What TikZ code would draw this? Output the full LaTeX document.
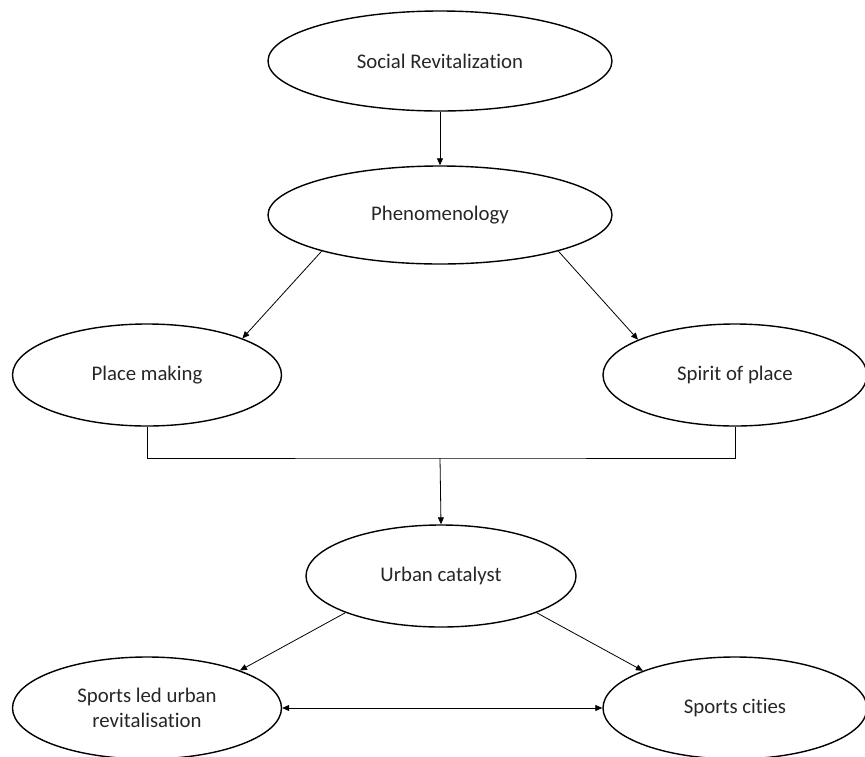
\documentclass[tikz,border=0pt]{standalone}
\usepackage{fontspec}
\setmainfont{Carlito}[Ligatures={NoCommon}]
\usetikzlibrary{shapes.geometric,arrows.meta}
\begin{document}
\begin{tikzpicture}[x=1pt,y=-1pt,
  oval/.style={ellipse,draw,line width=1.4pt,inner sep=0pt,align=center,text=black!85,font=\fontsize{20.8}{25}\selectfont},
  conn/.style={line width=0.8pt,-{Triangle[length=7pt,width=6pt]}},
  plain/.style={line width=0.8pt}]
\useasboundingbox (0,0) rectangle (865,756);
\node[oval,minimum width=344pt,minimum height=100pt] (soc) at (440,61) {Social Revitalization};
\node[oval,minimum width=344pt,minimum height=98pt] (phen) at (440,215) {Phenomenology};
\node[oval,minimum width=269pt,minimum height=102pt] (pm) at (147,375) {Place making};
\node[oval,minimum width=264pt,minimum height=102pt] (sp) at (735,375) {Spirit of place};
\node[oval,minimum width=270pt,minimum height=102pt] (uc) at (441,576) {Urban catalyst};
\node[oval,minimum width=269pt,minimum height=102pt] (sl) at (147,708) {Sports led urban\\revitalisation};
\node[oval,minimum width=264pt,minimum height=102pt] (sc) at (735,708) {Sports cities};
\coordinate (j) at (440,458);
\draw[conn] (soc) -- (phen);
\draw[conn] (phen.197) -- (pm.21);
\draw[conn] (phen.343) -- (sp.160);
\draw[plain] (pm.south) |- (j) -| (sp.south);
\draw[conn] (j) -- (uc.north);
\draw[conn] (uc.201) -- (sl.22);
\draw[conn] (uc.339) -- (sc.158);
\draw[line width=0.8pt,{Triangle[length=7pt,width=6pt]}-{Triangle[length=7pt,width=6pt]}] (sl.east) -- (sc.west);
\end{tikzpicture}
\end{document}
